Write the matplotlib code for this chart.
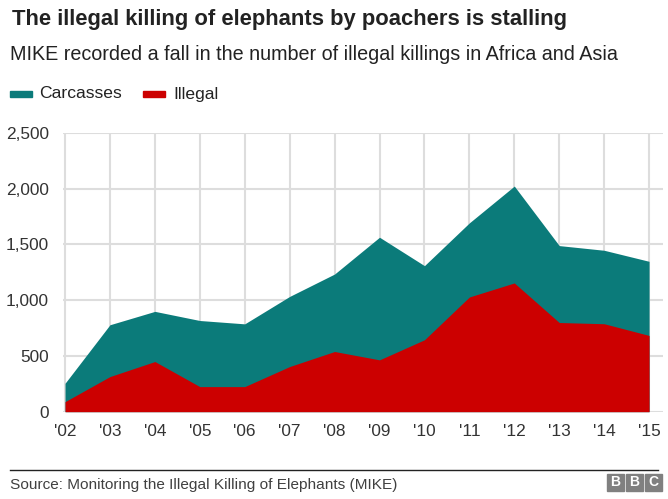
import matplotlib
matplotlib.use("Agg")
import matplotlib.pyplot as plt
from matplotlib.patches import Rectangle

# data (MIKE sites, Africa and Asia)
years = [2002, 2003, 2004, 2005, 2006, 2007, 2008, 2009, 2010, 2011, 2012, 2013, 2014, 2015]
year_labels = ["'02", "'03", "'04", "'05", "'06", "'07", "'08", "'09", "'10", "'11", "'12", "'13", "'14", "'15"]
carcasses = [255, 780, 900, 818, 788, 1034, 1235, 1565, 1310, 1694, 2024, 1490, 1448, 1349]
illegal = [90, 315, 450, 225, 225, 405, 540, 465, 645, 1029, 1155, 800, 789, 684]
y_ticks = [0, 500, 1000, 1500, 2000, 2500]

teal = '#0b7b7a'
red = '#cc0000'
W, H = 668, 499

plt.rcParams['font.family'] = ['Liberation Sans', 'DejaVu Sans']

fig = plt.figure(figsize=(W / 100, H / 100), dpi=100)

# axes placed in pixel units (origin bottom-left)
ax_left, ax_right, ax_top, ax_bottom = 63, 663, 133, 411.7
ax = fig.add_axes([ax_left / W, (H - ax_bottom) / H,
                   (ax_right - ax_left) / W, (ax_bottom - ax_top) / H])

ax.fill_between(years, 0, carcasses, color=teal, linewidth=0, zorder=2)
ax.fill_between(years, 0, illegal, color=red, linewidth=0, zorder=3)

ax.set_xlim(2001.955, 2015.31)
ax.set_ylim(0, 2500)
ax.set_xticks(years)
ax.set_xticklabels(year_labels)
ax.set_yticks(y_ticks)
ax.set_yticklabels(['{:,}'.format(v) for v in y_ticks])
ax.tick_params(length=0, labelsize=12.4, colors='#333333')
ax.tick_params(axis='x', pad=9)
ax.tick_params(axis='y', pad=10)
ax.grid(True, color='#dddddd', linewidth=1.5, zorder=0)
ax.set_axisbelow(True)
for s in ax.spines.values():
    s.set_visible(False)

# title, subtitle, legend
fig.text(12 / W, 1 - 20 / H, 'The illegal killing of elephants by poachers is stalling',
         fontsize=15.8, fontweight='bold', color='#222222', va='center')
fig.text(10 / W, 1 - 55 / H, 'MIKE recorded a fall in the number of illegal killings in Africa and Asia',
         fontsize=14.2, color='#222222', va='center')

fig.patches.append(Rectangle((10 / W, 1 - 97 / H), 22 / W, 6 / H, color=teal,
                             transform=fig.transFigure, figure=fig))
fig.text(39 / W, 1 - 94 / H, 'Carcasses', fontsize=12.6, color='#222222', va='center')
fig.patches.append(Rectangle((143 / W, 1 - 97 / H), 22 / W, 6 / H, color=red,
                             transform=fig.transFigure, figure=fig))
fig.text(173 / W, 1 - 94 / H, 'Illegal', fontsize=12.6, color='#222222', va='center')

# footer
fig.add_artist(plt.Line2D([10 / W, 658 / W], [1 - 470 / H, 1 - 470 / H],
                          color='#222222', linewidth=1))
fig.text(10 / W, 1 - 485 / H, 'Source: Monitoring the Illegal Killing of Elephants (MIKE)',
         fontsize=11.1, color='#404040', va='center')

# BBC blocks
for i, letter in enumerate('BBC'):
    x0 = 607 + i * 19
    fig.patches.append(Rectangle((x0 / W, 1 - 491 / H), 17 / W, 17 / H, color='#808080',
                                 transform=fig.transFigure, figure=fig))
    fig.text((x0 + 8.5) / W, 1 - 482.5 / H, letter, fontsize=10, fontweight='bold',
             color='white', ha='center', va='center')

fig.savefig('out.png', dpi=100)
